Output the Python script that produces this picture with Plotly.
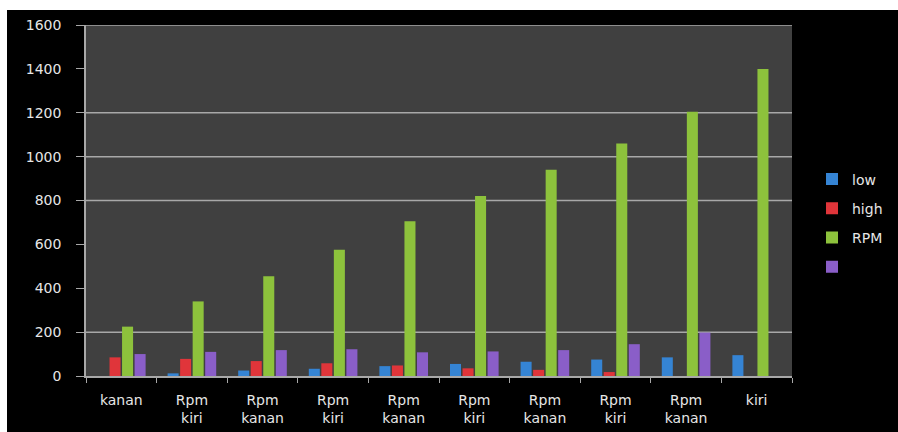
import plotly.graph_objects as go

categories = ["kanan", "Rpm<br>kiri", "Rpm<br>kanan", "Rpm<br>kiri", "Rpm<br>kanan",
              "Rpm<br>kiri", "Rpm<br>kanan", "Rpm<br>kiri", "Rpm<br>kanan", "kiri"]
low = [0, 12, 25, 33, 45, 55, 65, 75, 85, 95]
high = [85, 78, 68, 58, 48, 35, 28, 18, 0, 0]
rpm = [225, 340, 455, 575, 705, 820, 940, 1060, 1205, 1400]
extra = [100, 110, 118, 122, 108, 112, 118, 145, 198, 0]
y_ticks = [0, 200, 400, 600, 800, 1000, 1200, 1400, 1600]
grid_values = [200, 800, 1000, 1200, 1600]

xpos = list(range(len(categories)))

series = [
    ("low", low, "#3584d4"),
    ("high", high, "#e0353a"),
    ("RPM", rpm, "#8dc23c"),
    (" ", extra, "#8a5ec8"),
]

fig = go.Figure()
for i, (name, vals, col) in enumerate(series):
    fig.add_trace(go.Bar(x=xpos, y=vals, name=name, legendgroup=str(i),
                         marker=dict(color=col, line=dict(width=0))))

W, H = 898, 432
L, R, T, B = 86, 106, 25, 56
pw, ph = W - L - R, H - T - B

def px_x(v):
    return (v - L) / pw

def px_y(v):
    return (H - B - v) / ph

shapes = [
    dict(type="rect", xref="paper", yref="paper", x0=px_x(-5), x1=px_x(W + 5), y0=px_y(10), y1=px_y(-5),
         fillcolor="white", line=dict(width=0), layer="below"),
    dict(type="rect", xref="paper", yref="paper", x0=px_x(-5), x1=px_x(7), y0=px_y(H + 5), y1=px_y(-5),
         fillcolor="white", line=dict(width=0), layer="below"),
    dict(type="rect", xref="paper", yref="paper", x0=0, x1=1, y0=0, y1=1,
         fillcolor="#404040", line=dict(width=0), layer="below"),
]
for g in grid_values:
    shapes.append(dict(type="line", xref="paper", yref="y", x0=0, x1=1, y0=g, y1=g,
                       line=dict(color="#a8a8a8", width=1.5), layer="below"))

fig.update_layout(
    width=W, height=H,
    margin=dict(l=L, r=R, t=T, b=B, autoexpand=False),
    paper_bgcolor="black",
    plot_bgcolor="rgba(0,0,0,0)",
    barmode="group",
    bargap=0.29,
    bargroupgap=0.12,
    shapes=shapes,
    font=dict(family="DejaVu Sans", color="#e6e6e6", size=14),
    legend=dict(x=px_x(812), xanchor="left", y=px_y(223), yanchor="middle",
                bgcolor="rgba(0,0,0,0)", tracegroupgap=8,
                font=dict(size=14, color="#e6e6e6")),
    xaxis=dict(
        range=[-0.5, 9.5], automargin=False,
        tickmode="array", tickvals=xpos, ticktext=categories,
        ticks="", showgrid=False, zeroline=False,
        showline=True, linecolor="#a8a8a8", linewidth=1.5,
        minor=dict(tickmode="array", tickvals=[v - 0.5 for v in range(11)],
                   ticks="outside", ticklen=5, tickcolor="#a8a8a8", showgrid=False),
        ticklabelstandoff=10,
        tickfont=dict(size=14, color="#e6e6e6"),
        fixedrange=True,
    ),
    yaxis=dict(
        range=[0, 1600], automargin=False,
        tickmode="array", tickvals=y_ticks,
        ticks="outside", ticklen=8, tickcolor="#a8a8a8",
        showgrid=False, zeroline=False,
        showline=True, linecolor="#a8a8a8", linewidth=1.5,
        ticklabelstandoff=12,
        tickfont=dict(size=14, color="#e6e6e6"),
        fixedrange=True,
    ),
)

fig.write_html("out.html")
